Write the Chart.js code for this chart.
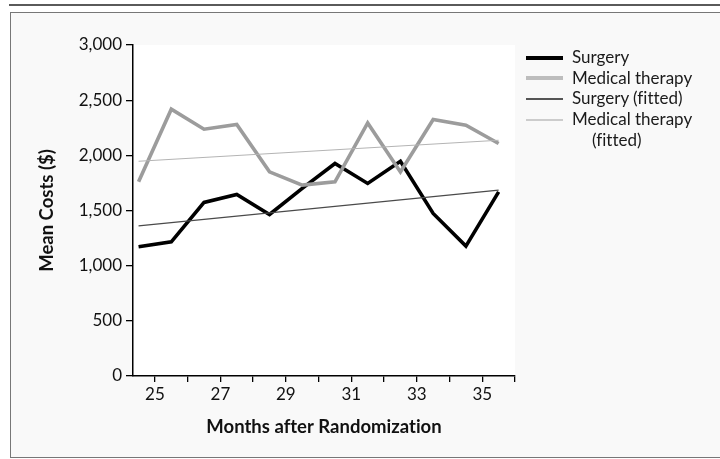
<!DOCTYPE html>
<html>
<head>
<meta charset="utf-8">
<script src="https://cdn.jsdelivr.net/npm/chart.js@4"></script>
<style>
  html, body { margin:0; padding:0; background:#fff; }
  #wrap { position:relative; width:720px; height:459px; overflow:hidden; font-family:Lato, "Open Sans", sans-serif; font-variant-ligatures:none; }
  #topline { position:absolute; left:9px; top:4px; width:720px; height:2px; background:#5a5a5a; }
  #box { position:absolute; left:10px; top:12px; width:720px; height:444px; background:#f9f9f9; border:1.5px solid #777; border-right:none; }
  #c { position:absolute; left:0; top:0; font-variant-ligatures:none; }
  #legend { position:absolute; left:526px; top:47px; font-size:17px; color:#1a1a1a; }
  .row { position:relative; height:20.7px; line-height:20.7px; }
  .sw { position:absolute; left:0; top:10.5px; width:37px; }
  .tx { position:absolute; left:46px; top:0; white-space:nowrap; }
</style>
</head>
<body>
<div id="wrap">
  <div id="topline"></div>
  <div id="box"></div>
  <canvas id="c" width="720" height="459"></canvas>
  <div id="legend"></div>
</div>
<script>
// ---- data ----
const months = [24.5, 25.5, 26.5, 27.5, 28.5, 29.5, 30.5, 31.5, 32.5, 33.5, 34.5, 35.5];
const surgery = [1171, 1216, 1573, 1645, 1464, 1700, 1926, 1745, 1947, 1473, 1177, 1669];
const medical = [1760, 2418, 2237, 2279, 1850, 1730, 1760, 2294, 1850, 2324, 2273, 2107];
const fittedMonths = [24.5, 35.5];
const surgeryFitted = [1361, 1684];
const medicalFitted = [1947, 2137];
const xTicks = [25, 26, 27, 28, 29, 30, 31, 32, 33, 34, 35, 36];
const xLabels = ['25', '', '27', '', '29', '', '31', '', '33', '', '35', ''];
const yTicks = [0, 500, 1000, 1500, 2000, 2500, 3000];
const yLabels = ['0', '500', '1,000', '1,500', '2,000', '2,500', '3,000'];
const seriesNames = ['Surgery', 'Medical therapy', 'Surgery (fitted)', 'Medical therapy\n(fitted)'];

const pts = (xs, ys) => xs.map((x, i) => ({x: x, y: ys[i]}));

const styles = [
  {color:'#000000', width:3.6, legendColor:'#000000', legendWidth:4},
  {color:'#9c9c9c', width:3.6, legendColor:'#bdbdbd', legendWidth:4},
  {color:'#4a4a4a', width:1.3, legendColor:'#555555', legendWidth:2},
  {color:'#b4b4b4', width:1.1, legendColor:'#cccccc', legendWidth:2}
];

const dataSets = [
  pts(fittedMonths, medicalFitted),
  pts(fittedMonths, surgeryFitted),
  pts(months, medical),
  pts(months, surgery)
];
const order = [3, 2, 1, 0];

const FONT = 'Lato';

const whiteArea = {
  id: 'whiteArea',
  beforeDraw(chart) {
    const {ctx, chartArea: a} = chart;
    ctx.save();
    ctx.fillStyle = '#ffffff';
    ctx.fillRect(a.left, a.top, a.right - a.left, a.bottom - a.top);
    ctx.restore();
  }
};

new Chart(document.getElementById('c'), {
  type: 'line',
  data: {
    datasets: order.map((si, k) => ({
      label: seriesNames[si].replace('\n', ' '),
      data: dataSets[k],
      borderColor: styles[si].color,
      borderWidth: styles[si].width,
      pointRadius: 0,
      tension: 0,
      fill: false,
      borderJoinStyle: 'miter',
      borderCapStyle: 'butt'
    }))
  },
  options: {
    responsive: false,
    animation: false,
    layout: { padding: { left: 0, top: 45, right: 205, bottom: 0 } },
    plugins: { legend: { display: false }, tooltip: { enabled: false } },
    scales: {
      x: {
        type: 'linear',
        min: 24.33,
        max: 36,
        afterBuildTicks: s => { s.ticks = xTicks.map(v => ({value: v})); },
        afterFit: s => { s.height = 83; },
        ticks: {
          callback: (v) => { const i = xTicks.indexOf(v); return i >= 0 ? xLabels[i] : ''; },
          color: '#111', font: { family: FONT, size: 17 }, padding: 2, maxRotation: 0, autoSkip: false
        },
        grid: { display: true, drawOnChartArea: false, drawTicks: true, tickLength: 6, color: '#000', lineWidth: 1.3 },
        border: { display: true, color: '#000', width: 1.5 },
        title: { display: true, text: 'Months after Randomization', color: '#111',
                 font: { family: FONT, size: 18.5, weight: 'bold' }, padding: { top: 0, bottom: 21 } }
      },
      y: {
        type: 'linear',
        min: 0,
        max: 3000,
        afterBuildTicks: s => { s.ticks = yTicks.map(v => ({value: v})); },
        afterFit: s => { s.width = 133; },
        ticks: {
          callback: (v) => { const i = yTicks.indexOf(v); return i >= 0 ? yLabels[i] : ''; },
          color: '#111', font: { family: FONT, size: 17 }, padding: 4
        },
        grid: { display: true, drawOnChartArea: false, drawTicks: true, tickLength: 7, color: '#000', lineWidth: 1.3 },
        border: { display: true, color: '#000', width: 1.5 },
        title: { display: true, text: 'Mean Costs ($)', color: '#111',
                 font: { family: FONT, size: 18.5, weight: 'bold' }, padding: { top: 36, bottom: 0 } }
      }
    }
  },
  plugins: [whiteArea]
});

// legend (HTML text, built from series names and styles)
const leg = document.getElementById('legend');
seriesNames.forEach((name, i) => {
  const lines = name.split('\n');
  const row = document.createElement('div');
  row.className = 'row';
  const sw = document.createElement('div');
  sw.className = 'sw';
  sw.style.height = styles[i].legendWidth + 'px';
  sw.style.marginTop = (-styles[i].legendWidth / 2) + 'px';
  sw.style.background = styles[i].legendColor;
  const tx = document.createElement('div');
  tx.className = 'tx';
  tx.textContent = lines[0];
  row.appendChild(sw); row.appendChild(tx);
  leg.appendChild(row);
  for (let j = 1; j < lines.length; j++) {
    const r2 = document.createElement('div');
    r2.className = 'row';
    const t2 = document.createElement('div');
    t2.className = 'tx';
    t2.style.left = '66px';
    t2.textContent = lines[j];
    r2.appendChild(t2);
    leg.appendChild(r2);
  }
});
</script>
</body>
</html>
